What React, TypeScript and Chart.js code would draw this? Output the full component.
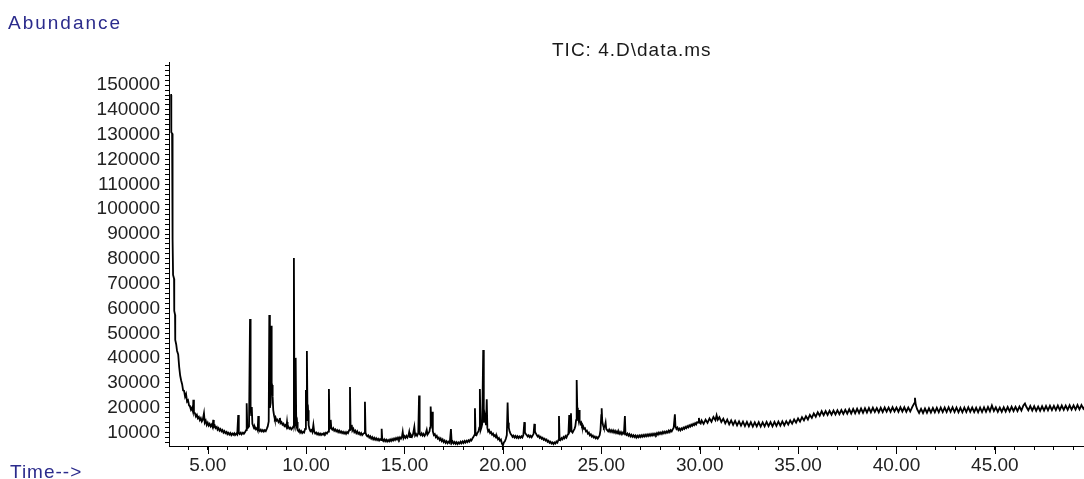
import React, { useEffect, useRef } from 'react';
import { Chart, registerables } from 'chart.js';

Chart.register(...registerables);

// [retention time (min), abundance]
const solventFront: [number, number][] = [
  [3.10, 146000], [3.14, 146000], [3.15, 131000], [3.19, 130500], [3.20, 88700], [3.23, 88000],
  [3.24, 73500], [3.29, 72000], [3.30, 59000], [3.34, 57500], [3.35, 47300], [3.40, 45500],
  [3.44, 43000], [3.50, 41500], [3.55, 36500], [3.60, 33000], [3.65, 31000], [3.70, 29500],
  [3.75, 27000], [3.80, 26800], [3.85, 24500], [3.90, 25500], [3.95, 22500], [4.00, 23000],
  [4.05, 21000], [4.10, 20500], [4.15, 19200], [4.20, 20000], [4.25, 18500], [4.27, 23200],
  [4.30, 18000], [4.35, 17800], [4.40, 16500], [4.45, 17200], [4.50, 15800], [4.55, 16300],
  [4.60, 15000], [4.65, 15800], [4.70, 14500], [4.75, 15200], [4.81, 17800], [4.85, 14000],
  [4.90, 14800], [4.95, 13100], [5.00, 14000], [5.05, 12800], [5.10, 13500], [5.15, 12500],
  [5.20, 13200], [5.25, 12200], [5.28, 15100], [5.31, 12300], [5.36, 12800], [5.40, 11800],
  [5.46, 12300], [5.50, 11200], [5.55, 11800], [5.60, 10800], [5.65, 11400], [5.70, 10500],
  [5.75, 11000], [5.80, 10000], [5.85, 10600], [5.90, 9800], [5.96, 10300], [6.00, 9400],
  [6.05, 9900], [6.10, 9200], [6.15, 9800], [6.20, 9000], [6.25, 9600], [6.30, 9100],
  [6.35, 9700], [6.39, 9000], [6.45, 9600], [6.50, 9200], [6.55, 17100], [6.58, 9800],
  [6.62, 9400], [6.68, 10000], [6.72, 9300], [6.79, 10000], [6.84, 9500], [6.90, 10200],
  [6.95, 11000], [6.98, 21800], [7.01, 13000], [7.05, 12000], [7.10, 12500],
];

const earlyPeaks: [number, number][] = [
  [7.15, 55800], [7.18, 20000], [7.21, 17000], [7.24, 20300], [7.27, 13500], [7.32, 12500],
  [7.36, 11600], [7.40, 12200], [7.45, 11300], [7.50, 11800], [7.54, 11000], [7.57, 16700],
  [7.60, 11200], [7.65, 10600], [7.70, 11200], [7.75, 10500], [7.80, 11000], [7.85, 10400],
  [7.90, 11000], [7.95, 10600], [8.00, 11500], [8.05, 12500], [8.10, 14500], [8.13, 57400],
  [8.16, 20000], [8.20, 22000], [8.22, 53000], [8.25, 30000], [8.27, 29200], [8.30, 24400],
  [8.33, 19000], [8.37, 17000], [8.41, 15500], [8.45, 16000], [8.50, 14800], [8.55, 15200],
  [8.60, 14200], [8.64, 14600], [8.67, 15900], [8.70, 13800], [8.75, 14200], [8.80, 13200],
  [8.85, 13600], [8.90, 12600], [8.95, 13000], [9.00, 12200], [9.03, 14300], [9.06, 12000],
  [9.10, 12400], [9.15, 11600], [9.20, 12000], [9.25, 11300], [9.30, 11800], [9.35, 12500],
  [9.38, 80300], [9.41, 13000], [9.44, 14000], [9.47, 40100], [9.50, 13000], [9.54, 14300],
  [9.57, 11000], [9.62, 10500], [9.66, 11000], [9.70, 10000], [9.75, 10600], [9.80, 9800],
  [9.85, 10300], [9.90, 10000], [9.95, 11500], [9.99, 27200], [10.02, 15000], [10.04, 42900],
  [10.07, 18000], [10.10, 19000], [10.13, 13000],
];

const middlePeaks: [number, number][] = [
  [10.17, 11500], [10.22, 10600], [10.27, 11000], [10.32, 10200], [10.37, 13100], [10.41, 10400],
  [10.46, 9600], [10.51, 10000], [10.56, 9300], [10.61, 9800], [10.66, 9100], [10.71, 9600],
  [10.76, 9000], [10.81, 9500], [10.86, 9200], [10.91, 9800], [10.96, 9400], [11.01, 10000],
  [11.06, 9600], [11.12, 10400], [11.16, 27600], [11.19, 11500], [11.22, 12000], [11.25, 15100],
  [11.28, 11800], [11.33, 11200], [11.38, 11800], [11.43, 10800], [11.48, 11300], [11.53, 10500],
  [11.58, 11000], [11.63, 10200], [11.68, 10800], [11.73, 10000], [11.78, 10500], [11.83, 9800],
  [11.88, 10300], [11.93, 9600], [11.98, 10200], [12.03, 9500], [12.08, 10200], [12.13, 9800],
  [12.19, 11000], [12.23, 28400], [12.26, 12500], [12.29, 11500], [12.32, 13100], [12.35, 10800],
  [12.40, 11500], [12.45, 10200], [12.50, 10800], [12.55, 9800], [12.60, 10500], [12.65, 9500],
  [12.70, 10000], [12.75, 9200], [12.80, 9800], [12.85, 9000], [12.90, 9500], [12.95, 9800],
  [12.99, 22400], [13.02, 10000], [13.06, 9000], [13.11, 8500], [13.16, 8900], [13.21, 8000],
  [13.26, 8500], [13.31, 7600], [13.36, 8200], [13.41, 7300], [13.46, 7900], [13.51, 7100],
  [13.56, 7700], [13.61, 7000], [13.66, 7500], [13.71, 6800], [13.76, 7400], [13.81, 7000],
  [13.84, 11500], [13.87, 7200], [13.92, 6600], [13.97, 7300], [14.02, 6500], [14.07, 7100],
  [14.12, 6400], [14.17, 7000], [14.22, 6500], [14.27, 7200], [14.32, 6600], [14.37, 7400],
  [14.42, 6800], [14.47, 7600], [14.52, 7000], [14.57, 7800], [14.62, 7200], [14.67, 8000],
  [14.72, 7300], [14.77, 8100], [14.82, 7500], [14.87, 8300], [14.91, 10300], [14.95, 7800],
  [15.00, 8600], [15.05, 7900], [15.10, 8700], [15.15, 8000], [15.20, 8800], [15.24, 10300],
  [15.28, 8200], [15.33, 9000], [15.38, 8300], [15.43, 9200], [15.50, 12300], [15.54, 8800],
  [15.59, 9400], [15.64, 8700], [15.70, 9800], [15.74, 24900], [15.77, 9500], [15.82, 9000],
  [15.87, 9700], [15.92, 8800], [15.97, 9500], [16.02, 8700], [16.07, 9400], [16.13, 11100],
  [16.17, 9200], [16.22, 9800], [16.27, 10500], [16.30, 12000], [16.33, 20500], [16.37, 12500],
  [16.41, 18400], [16.44, 10500], [16.49, 9000], [16.54, 9400], [16.59, 8200], [16.64, 8700],
  [16.69, 7600], [16.74, 8000], [16.79, 7000], [16.84, 7600], [16.89, 6600], [16.94, 7200],
  [16.99, 6200], [17.04, 6800], [17.09, 5900], [17.14, 6500], [17.19, 5700], [17.24, 6300],
  [17.30, 5800], [17.36, 11400], [17.40, 5800], [17.45, 6400], [17.50, 5600], [17.55, 6200],
  [17.60, 5500], [17.65, 6100], [17.70, 5400], [17.75, 6000], [17.80, 5600], [17.85, 6300],
  [17.90, 5700], [17.95, 6400], [18.00, 5800], [18.05, 6600], [18.10, 6000], [18.15, 6700],
  [18.20, 6200], [18.25, 6900], [18.30, 6400], [18.35, 7200], [18.40, 6800], [18.45, 7600],
  [18.50, 8200], [18.55, 9000], [18.58, 19800], [18.61, 9500], [18.66, 9000], [18.71, 10000],
  [18.76, 10500], [18.80, 12000], [18.83, 27600], [18.87, 11000], [18.91, 12000], [18.95, 13500],
  [19.00, 43300], [19.03, 14000], [19.06, 18000], [19.10, 16000], [19.14, 13000], [19.18, 23400],
  [19.21, 12000], [19.25, 10500], [19.30, 11000], [19.35, 9800], [19.40, 10200], [19.45, 9200],
  [19.50, 9600], [19.55, 8600], [19.60, 9000], [19.65, 8000], [19.70, 8400], [19.75, 7300],
  [19.80, 7800], [19.85, 6800], [19.90, 7200], [19.95, 5600], [20.00, 4800], [20.05, 6000],
];

const latePeaks: [number, number][] = [
  [20.10, 6500], [20.15, 7500], [20.20, 9000], [20.24, 22100], [20.27, 14000], [20.30, 12000],
  [20.34, 10500], [20.39, 9500], [20.44, 9000], [20.49, 8300], [20.54, 8800], [20.59, 8000],
  [20.64, 8600], [20.69, 7900], [20.74, 8500], [20.79, 7800], [20.84, 8400], [20.89, 7900],
  [20.94, 8500], [20.99, 8000], [21.04, 9000], [21.09, 14200], [21.12, 10000], [21.16, 9500],
  [21.21, 9000], [21.26, 8400], [21.31, 8900], [21.36, 8200], [21.41, 8700], [21.46, 8100],
  [21.51, 8800], [21.56, 9500], [21.60, 13500], [21.63, 10500], [21.67, 9800], [21.72, 9000],
  [21.77, 8400], [21.82, 8800], [21.87, 7900], [21.92, 8300], [21.97, 7500], [22.02, 7900],
  [22.07, 7100], [22.12, 7500], [22.17, 6800], [22.22, 7200], [22.27, 6300], [22.32, 6700],
  [22.37, 5900], [22.42, 6300], [22.47, 5600], [22.52, 6000], [22.57, 5400], [22.62, 6000],
  [22.67, 5600], [22.72, 6400], [22.77, 6000], [22.82, 7000], [22.85, 16700], [22.88, 7500],
  [22.93, 7000], [22.98, 7800], [23.03, 7300], [23.08, 8200], [23.13, 7700], [23.18, 8600],
  [23.23, 8000], [23.28, 9000], [23.33, 9500], [23.37, 17100], [23.40, 10500], [23.43, 11000],
  [23.46, 17800], [23.49, 10500], [23.54, 10000], [23.59, 10800], [23.64, 11500], [23.68, 12500],
  [23.72, 15000], [23.75, 31200], [23.78, 20000], [23.81, 17000], [23.84, 15500], [23.87, 19100],
  [23.90, 15000], [23.94, 13500], [23.98, 14000], [24.02, 12500], [24.07, 12800], [24.12, 11500],
  [24.17, 11800], [24.22, 10500], [24.27, 10800], [24.32, 9600], [24.37, 10000], [24.42, 8900],
  [24.47, 9300], [24.52, 8400], [24.57, 8800], [24.62, 8000], [24.67, 8400], [24.72, 7700],
  [24.77, 8200], [24.82, 7600], [24.87, 8200], [24.92, 9000], [24.96, 11000], [25.00, 17000],
  [25.02, 19800], [25.05, 14500], [25.09, 13000], [25.13, 12000], [25.18, 12500], [25.22, 14000],
  [25.25, 11500], [25.30, 11000], [25.35, 10500], [25.40, 11200], [25.45, 10300], [25.50, 11000],
  [25.55, 10200], [25.60, 10900], [25.65, 10000], [25.70, 10700], [25.75, 9800], [25.80, 10500],
  [25.85, 9600], [25.90, 10300], [25.95, 9500], [26.00, 10200], [26.05, 9300], [26.10, 10000],
  [26.15, 9600], [26.20, 16700], [26.23, 9500], [26.28, 9000], [26.33, 9600], [26.38, 8800],
  [26.43, 9400], [26.48, 8500], [26.53, 9100], [26.58, 8300], [26.63, 8900], [26.68, 8200],
  [26.73, 8800], [26.78, 8000], [26.83, 8700], [26.88, 8100], [26.93, 8800], [26.98, 8200],
  [27.03, 8900], [27.08, 8300], [27.13, 9000], [27.18, 8400], [27.23, 9100], [27.28, 8500],
  [27.33, 9200], [27.38, 8600], [27.43, 9300], [27.48, 8700], [27.53, 9400], [27.58, 8800],
  [27.63, 9500], [27.68, 8900], [27.73, 9600], [27.78, 9100], [27.83, 9800], [27.88, 9200],
  [27.93, 10000], [27.98, 9400], [28.03, 10100], [28.08, 9500], [28.13, 10300], [28.18, 9700],
  [28.23, 10400], [28.28, 9800], [28.33, 10500], [28.38, 10000], [28.43, 10800], [28.48, 10200],
  [28.53, 11000], [28.58, 10500], [28.63, 11300], [28.68, 12000], [28.74, 17400], [28.77, 12500],
  [28.82, 11500], [28.87, 12000], [28.92, 11000], [28.97, 11600], [29.02, 10900], [29.07, 11700],
  [29.12, 11200], [29.17, 12000], [29.22, 11500], [29.27, 12300], [29.32, 11800], [29.37, 12600],
  [29.42, 12100], [29.47, 12900], [29.52, 12400], [29.57, 13200], [29.62, 12700], [29.67, 13500],
  [29.72, 13000], [29.77, 13800], [29.82, 13300], [29.87, 14200], [29.92, 14000], [29.96, 15900],
  [30.00, 14000], [30.05, 13600],
];

const columnBleed: [number, number][] = [
  [30.10, 14900], [30.20, 13500], [30.30, 15200], [30.40, 13900], [30.50, 15700], [30.60, 14400],
  [30.70, 16300], [30.80, 15000], [30.86, 17000], [30.92, 15200], [31.00, 16200], [31.10, 14300],
  [31.20, 15600], [31.30, 13700], [31.40, 15200], [31.50, 13300], [31.60, 14900], [31.70, 13100],
  [31.80, 14700], [31.90, 12900], [32.00, 14500], [32.10, 12800], [32.20, 14400], [32.30, 12600],
  [32.40, 14300], [32.50, 12500], [32.60, 14200], [32.70, 12400], [32.80, 14100], [32.90, 12500],
  [33.00, 14200], [33.10, 12400], [33.20, 14100], [33.30, 12500], [33.40, 14300], [33.50, 12600],
  [33.60, 14200], [33.70, 12500], [33.80, 14300], [33.90, 12700], [34.00, 14400], [34.10, 12800],
  [34.20, 14500], [34.30, 12900], [34.40, 14600], [34.50, 13200], [34.60, 14900], [34.70, 13600],
  [34.80, 15300], [34.90, 14000], [35.00, 15700], [35.10, 14400], [35.20, 16200], [35.30, 14900],
  [35.40, 16600], [35.50, 15300], [35.60, 17100], [35.70, 15900], [35.80, 17700], [35.90, 16400],
  [36.00, 18200], [36.10, 16800], [36.20, 18600], [36.30, 17000], [36.40, 18700], [36.50, 17100],
  [36.60, 18800], [36.70, 17200], [36.80, 18900], [36.90, 17300], [37.00, 19000], [37.10, 17400],
  [37.20, 19100], [37.30, 17500], [37.40, 19200], [37.50, 17600], [37.60, 19400], [37.70, 17700],
  [37.80, 19500], [37.90, 17800], [38.00, 19600], [38.10, 17900], [38.20, 19700], [38.30, 18000],
  [38.40, 19800], [38.50, 18100], [38.60, 19900], [38.70, 18200], [38.80, 20000], [38.90, 18300],
  [39.00, 19900], [39.10, 18200], [39.20, 20000], [39.30, 18300], [39.40, 20100], [39.50, 18400],
  [39.60, 20100], [39.70, 18400], [39.80, 20200], [39.90, 18500], [40.00, 20100], [40.10, 18400],
  [40.20, 20200], [40.30, 18500], [40.40, 20200], [40.50, 18400], [40.60, 20100], [40.70, 18500],
  [40.80, 20300], [40.90, 21800], [40.94, 24000], [40.98, 21200], [41.05, 19400], [41.15, 17900],
  [41.25, 19600], [41.35, 17900], [41.45, 19700], [41.55, 18000], [41.65, 19800], [41.75, 18100],
  [41.85, 19900], [41.95, 18200], [42.05, 20000], [42.15, 18200], [42.25, 20100], [42.35, 18300],
  [42.45, 20100], [42.55, 18300], [42.65, 20200], [42.75, 18400], [42.85, 20200], [42.95, 18300],
  [43.05, 20100], [43.15, 18200], [43.25, 20000], [43.35, 18200], [43.45, 20100], [43.55, 18300],
  [43.65, 20200], [43.75, 18400], [43.85, 20100], [43.95, 18300], [44.05, 20000], [44.15, 18200],
  [44.25, 20100], [44.35, 18300], [44.45, 20200], [44.55, 18400], [44.65, 20300], [44.75, 18600],
  [44.85, 20900], [44.95, 18700], [45.05, 20200], [45.15, 18400], [45.25, 20100], [45.35, 18400],
  [45.45, 20200], [45.55, 18500], [45.65, 20300], [45.75, 18600], [45.85, 20400], [45.95, 18700],
  [46.05, 20400], [46.15, 18700], [46.25, 20500], [46.35, 18900], [46.45, 20900], [46.53, 21700],
  [46.60, 20400], [46.70, 19000], [46.80, 20700], [46.90, 18900], [47.00, 20600], [47.10, 18800],
  [47.20, 20500], [47.30, 18800], [47.40, 20600], [47.50, 18900], [47.60, 20700], [47.70, 19000],
  [47.80, 20800], [47.90, 19100], [48.00, 20800], [48.10, 19100], [48.20, 20900], [48.30, 19100],
  [48.40, 20900], [48.50, 19200], [48.60, 20900], [48.70, 19200], [48.80, 21000], [48.90, 19300],
  [49.00, 21000], [49.10, 19300], [49.20, 21100], [49.30, 19400], [49.40, 21100], [49.50, 19600],
  [49.60, 20800],
];

const xLabelTicks = [5, 10, 15, 20, 25, 30, 35, 40, 45];
const yLabelTicks = [10000, 20000, 30000, 40000, 50000, 60000, 70000, 80000, 90000, 100000,
  110000, 120000, 130000, 140000, 150000];

const titleText = 'TIC: 4.D\\data.ms';
const yAxisTitle = 'Abundance';
const xAxisTitle = 'Time-->';

const X_MIN = 3.033;
const X_MAX = 49.53;
const Y_MIN = 4600;
const Y_MAX = 159300;
const X_MINOR_STEP = 1;
const Y_MINOR_STEP = 2000;

const FONT = '"Liberation Sans", Arial, sans-serif';
const BLUE = '#2b2b8c';

const textPlugin = {
  id: 'ticText',
  afterDraw(chart: any) {
    const ctx = chart.ctx as CanvasRenderingContext2D;
    const xs = chart.scales.x;
    ctx.save();
    // longer major tick marks on the time axis
    ctx.strokeStyle = '#000';
    ctx.lineWidth = 1;
    const bottom = chart.chartArea.bottom;
    xLabelTicks.forEach((t) => {
      const px = Math.round(xs.getPixelForValue(t)) + 0.5;
      ctx.beginPath();
      ctx.moveTo(px, bottom);
      ctx.lineTo(px, bottom + 8);
      ctx.stroke();
    });
    ctx.textBaseline = 'alphabetic';
    ctx.textAlign = 'left';
    ctx.font = `19px ${FONT}`;
    (ctx as any).letterSpacing = '2px';
    ctx.fillStyle = BLUE;
    ctx.fillText(yAxisTitle, 8, 29);
    (ctx as any).letterSpacing = '1px';
    ctx.fillText(xAxisTitle, 10, 478);
    ctx.fillStyle = '#1a1a1a';
    (ctx as any).letterSpacing = '1px';
    ctx.fillText(titleText, 552, 56);
    ctx.restore();
  },
};

function stepTicks(min: number, max: number, step: number) {
  const out: { value: number }[] = [];
  for (let v = Math.ceil(min / step) * step; v <= max; v += step) out.push({ value: v });
  return out;
}

export default function App() {
  const canvasRef = useRef<HTMLCanvasElement | null>(null);

  useEffect(() => {
    document.body.style.margin = '0';
    const canvas = canvasRef.current;
    if (!canvas) return;
    const points = [...solventFront, ...earlyPeaks, ...middlePeaks, ...latePeaks, ...columnBleed]
      .map(([x, y]) => ({ x, y }));

    const chart = new Chart(canvas, {
      type: 'line',
      data: {
        datasets: [
          {
            data: points,
            borderColor: '#000',
            borderWidth: 1.8,
            pointRadius: 0,
            tension: 0,
            fill: false,
          },
        ],
      },
      options: {
        animation: false,
        responsive: false,
        maintainAspectRatio: false,
        layout: { padding: { top: 62, right: 0, bottom: 0, left: 0 } },
        plugins: {
          legend: { display: false },
          tooltip: { enabled: false },
          title: { display: false },
        },
        scales: {
          x: {
            type: 'linear',
            min: X_MIN,
            max: X_MAX,
            afterFit: (scale: any) => {
              scale.height = 33;
            },
            afterBuildTicks: (scale: any) => {
              scale.ticks = stepTicks(X_MIN, X_MAX, X_MINOR_STEP);
            },
            border: { display: true, color: '#000', width: 1 },
            grid: {
              drawOnChartArea: false,
              drawTicks: true,
              tickLength: 4,
              color: '#000',
            },
            ticks: {
              autoSkip: false,
              maxRotation: 0,
              minRotation: 0,
              padding: 4,
              color: '#222',
              font: { family: FONT, size: 19 },
              callback: (v: any) => (xLabelTicks.includes(Math.round(Number(v))) && Math.abs(Number(v) - Math.round(Number(v))) < 1e-6 ? Number(v).toFixed(2) : ''),
            },
          },
          y: {
            type: 'linear',
            min: Y_MIN,
            max: Y_MAX,
            afterFit: (scale: any) => {
              scale.width = 169;
            },
            afterBuildTicks: (scale: any) => {
              scale.ticks = stepTicks(Y_MIN, Y_MAX, Y_MINOR_STEP);
            },
            border: { display: true, color: '#000', width: 1 },
            grid: {
              drawOnChartArea: false,
              drawTicks: true,
              tickLength: 4,
              color: '#000',
            },
            ticks: {
              autoSkip: false,
              padding: 5,
              color: '#222',
              font: { family: FONT, size: 19 },
              callback: (v: any) => (yLabelTicks.includes(Math.round(Number(v))) ? String(Math.round(Number(v))) : ''),
            },
          },
        },
      },
      plugins: [textPlugin],
    });

    return () => {
      chart.destroy();
    };
  }, []);

  return (
    <div style={{ width: 1084, height: 479, position: 'relative', background: '#fff' }}>
      <canvas ref={canvasRef} width={1084} height={479} style={{ display: 'block' }} />
    </div>
  );
}
